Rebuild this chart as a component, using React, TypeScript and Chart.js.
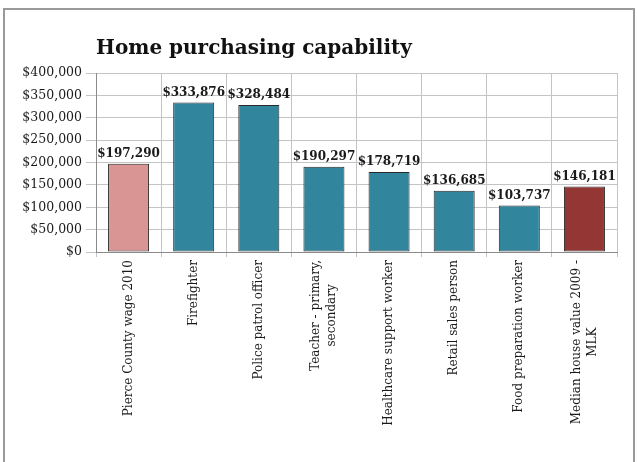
import React, { useEffect, useRef } from "react";
import { Chart, registerables } from "chart.js";

Chart.register(...registerables);

const TITLE = "Home purchasing capability";
const CATEGORIES: string[][] = [
  ["Pierce County wage 2010"],
  ["Firefighter"],
  ["Police patrol officer"],
  ["Teacher - primary,", "secondary"],
  ["Healthcare support worker"],
  ["Retail sales person"],
  ["Food preparation worker"],
  ["Median house value 2009 -", "MLK"],
];
const VALUES = [197290, 333876, 328484, 190297, 178719, 136685, 103737, 146181];
const BAR_COLORS = ["#D99594", "#31859C", "#31859C", "#31859C", "#31859C", "#31859C", "#31859C", "#943634"];
const Y_MIN = 0;
const Y_MAX = 400000;
const Y_STEP = 50000;

const FONT = "'DejaVu Serif', serif";

const fmt = (v: number) => "$" + Math.round(v).toLocaleString("en-US");

const framePlugin = {
  id: "frame",
  beforeDraw(chart: any) {
    const ctx = chart.ctx;
    ctx.save();
    ctx.fillStyle = "#ffffff";
    ctx.fillRect(0, 0, chart.width, chart.height);
    ctx.strokeStyle = "#9a9a9a";
    ctx.lineWidth = 2;
    ctx.strokeRect(4, 9, 630, 500);
    ctx.restore();
  },
};

const valueLabelPlugin = {
  id: "valueLabels",
  afterDatasetsDraw(chart: any) {
    const ctx = chart.ctx;
    const meta = chart.getDatasetMeta(0);
    ctx.save();
    ctx.font = `bold 12px ${FONT}`;
    ctx.fillStyle = "#1a1a1a";
    ctx.textAlign = "center";
    ctx.textBaseline = "bottom";
    meta.data.forEach((bar: any, i: number) => {
      ctx.fillText(fmt(VALUES[i]), bar.x, bar.y - 4);
    });
    ctx.restore();
  },
};

const xLabelPlugin = {
  id: "xLabels",
  afterDraw(chart: any) {
    const ctx = chart.ctx;
    const sx = chart.scales.x;
    const top = chart.chartArea.bottom + 8;
    const lh = 16;
    ctx.save();
    ctx.font = `12px ${FONT}`;
    ctx.fillStyle = "#1a1a1a";
    ctx.textAlign = "center";
    ctx.textBaseline = "middle";
    CATEGORIES.forEach((lines, i) => {
      const x = sx.getPixelForTick(i);
      const w = Math.max(...lines.map((l) => ctx.measureText(l).width));
      ctx.save();
      ctx.translate(x, top);
      ctx.rotate(-Math.PI / 2);
      lines.forEach((l, j) => {
        ctx.fillText(l, -w / 2, (j - (lines.length - 1) / 2) * lh);
      });
      ctx.restore();
    });
    ctx.restore();
  },
};

export default function App() {
  const ref = useRef<HTMLCanvasElement | null>(null);
  useEffect(() => {
    if (!ref.current) return;
    const chart = new Chart(ref.current, {
      type: "bar",
      data: {
        labels: CATEGORIES.map((c) => c.join(" ")),
        datasets: [
          {
            data: VALUES,
            backgroundColor: BAR_COLORS,
            borderColor: "#2a2a2a",
            borderWidth: 1,
            borderSkipped: false,
            categoryPercentage: 1,
            barPercentage: 0.63,
          },
        ],
      },
      options: {
        animation: false,
        responsive: false,
        maintainAspectRatio: false,
        layout: { padding: { top: 27, left: 10, right: 20, bottom: 0 } },
        plugins: {
          legend: { display: false },
          tooltip: { enabled: false },
          title: {
            display: true,
            text: TITLE,
            align: "start",
            fullSize: false,
            color: "#111111",
            font: { family: FONT, size: 20, weight: "bold" },
            padding: { top: 10, bottom: 12 },
          },
        },
        scales: {
          x: {
            grid: { color: "#c4c4c4", tickLength: 5, offset: true },
            border: { color: "#8a8a8a" },
            ticks: { display: false },
            afterFit: (s: any) => {
              s.height = 210;
            },
          },
          y: {
            min: Y_MIN,
            max: Y_MAX,
            grid: { color: "#c4c4c4", tickLength: 10 },
            border: { color: "#8a8a8a" },
            ticks: {
              stepSize: Y_STEP,
              padding: 4,
              color: "#1a1a1a",
              font: { family: FONT, size: 12.5 },
              callback: (v: any) => fmt(Number(v)),
            },
            afterFit: (s: any) => {
              s.width = 86;
            },
          },
        },
      },
      plugins: [framePlugin, valueLabelPlugin, xLabelPlugin],
    });
    return () => chart.destroy();
  }, []);
  return (
    <div style={{ position: "fixed", left: 0, top: 0, width: 637, height: 462, overflow: "hidden", background: "#fff" }}>
      <canvas ref={ref} width={637} height={462} style={{ display: "block", width: 637, height: 462 }} />
    </div>
  );
}
